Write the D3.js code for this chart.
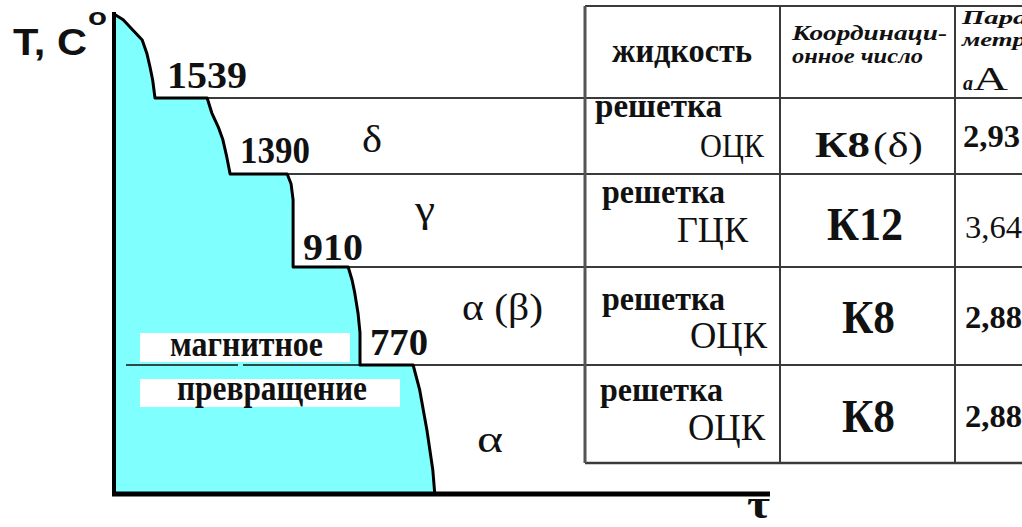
<!DOCTYPE html>
<html>
<head>
<meta charset="utf-8">
<script src="https://cdn.jsdelivr.net/npm/d3@7/dist/d3.min.js"></script>
<style>
  html, body { margin: 0; padding: 0; background: #fff; overflow: hidden; }
  svg { display: block; }
</style>
</head>
<body>
<svg id="chart" width="1022" height="527"></svg>
<script>
// Cooling curve of pure iron: time (arbitrary units) against temperature, °C
const curveTime = [0, 1.4, 2.9, 4.3, 5.0, 5.5, 5.9, 6.25, 14.2, 14.9, 15.9, 16.6, 17.2, 17.7,
                   26.4, 27.0, 27.3, 27.3, 35.7, 36.3, 36.7, 37.2, 37.5, 37.5, 45.6, 46.6, 47.7, 48.6, 48.9];
const curveTemp = [1700, 1689, 1669, 1650, 1625, 1598, 1573, 1539, 1539, 1510, 1482, 1457, 1423, 1390,
                   1390, 1338, 1256, 910, 910, 891, 873, 844, 816, 770, 770, 621, 382, 143, 0];

// Arrest points (plateaus) and the phase that exists below each of them
const criticalTemps = [1539, 1390, 910, 770];
const phases = ["δ", "γ", "α (β)", "α"];

// Side table
const headLiquid = "жидкость";
const headCoord = ["Координаци-", "онное число"];
const headParam = ["Пара-", "метр"];
const headUnit = ["а", "А"];
const latticeWord = "решетка";
const latticeTypes = ["ОЦК", "ГЦК", "ОЦК", "ОЦК"];
const coordNumbers = ["К8(δ)", "К12", "К8", "К8"];
const latticeParams = ["2,93", "3,64", "2,88", "2,88"];
const magneticLabel = ["магнитное", "превращение"];
const axisLabels = { y: "T, C", yDeg: "o", x: "τ" };

// ---------------------------------------------------------------
const svg = d3.select("#chart");
const SERIF = "'Liberation Serif', 'Times New Roman', serif";
const SANS = "'Liberation Sans', Arial, sans-serif";
const FILL = "#80ffff";

const x = d3.scaleLinear().domain([0, 100]).range([114, 770]);
// schematic temperature axis: each interval between arrests gets its own stretch
const y = d3.scaleLinear()
  .domain([1700, 1539, 1390, 910, 770, 0])
  .range([14, 98, 174, 267, 365, 494]);

const pts = curveTime.map((t, i) => [t, curveTemp[i]]);
const line = d3.line().x(d => x(d[0])).y(d => y(d[1]));

// text with a fixed drawn width
function txt(g, s, px, py, o = {}) {
  const t = g.append("text")
    .attr("x", px).attr("y", py)
    .attr("font-family", o.family || SERIF)
    .attr("font-size", o.size || 30)
    .attr("font-weight", o.weight || "bold")
    .attr("font-style", o.style || "normal")
    .attr("fill", o.fill || "#111")
    .text(s);
  if (o.w) t.attr("textLength", o.w).attr("lengthAdjust", "spacingAndGlyphs");
  return t;
}

// ---- filled region under the curve, closed along the temperature axis
svg.append("path")
  .attr("d", line(pts.concat([[0, 0]])) + "Z")
  .attr("fill", FILL);

// ---- table
const tLeft = 585, tRight = 1040, tTop = 6, tBottom = 463;
const colX = [780, 955];
const lineCol = "#3a3a3a";
const tbl = svg.append("g");

// plateau extensions running into the table
criticalTemps.forEach(T => {
  const tEnd = d3.max(pts.filter(p => p[1] === T), p => p[0]);
  tbl.append("line")
    .attr("x1", x(tEnd)).attr("x2", tRight)
    .attr("y1", y(T)).attr("y2", y(T))
    .attr("stroke", lineCol).attr("stroke-width", 2);
});
tbl.append("line").attr("x1", tLeft).attr("x2", tRight).attr("y1", tTop).attr("y2", tTop)
  .attr("stroke", lineCol).attr("stroke-width", 2);
tbl.append("line").attr("x1", tLeft).attr("x2", tRight).attr("y1", tBottom).attr("y2", tBottom)
  .attr("stroke", lineCol).attr("stroke-width", 2.5);
tbl.append("line").attr("x1", tLeft).attr("x2", tLeft).attr("y1", tTop).attr("y2", tBottom)
  .attr("stroke", "#555").attr("stroke-width", 3);
colX.forEach(cx => tbl.append("line").attr("x1", cx).attr("x2", cx)
  .attr("y1", tTop).attr("y2", tBottom).attr("stroke", lineCol).attr("stroke-width", 2));

// header row
txt(tbl, headLiquid, 612, 62, { size: 34, w: 140 });
txt(tbl, headCoord[0], 792, 40, { size: 20, style: "italic", w: 155 });
txt(tbl, headCoord[1], 792, 63, { size: 20, style: "italic", w: 131 });
txt(tbl, headParam[0], 962, 24, { size: 19, style: "italic", w: 75 });
txt(tbl, headParam[1], 962, 46, { size: 19, style: "italic", w: 64 });
txt(tbl, headUnit[0], 963, 90, { size: 22, style: "italic", w: 10 });
txt(tbl, headUnit[1], 973, 90, { size: 34, weight: "normal", w: 35 });

// body rows
const latX = [595, 602, 602, 600], latY = [117, 203, 310, 401], latW = [127, 123, 123, 123];
const typR = [764, 748, 767, 765], typY = [157, 242, 348, 440], typW = [64, 71, 77, 77], typS = [33, 36, 38, 38];
const coX = [815, 827, 842, 842], coY = [157, 240, 333, 432], coW = [55, 76, 53, 53], coS = [36, 46, 46, 46];
const parX = [963, 965, 965, 965], parY = [147, 238, 328, 427];
phases.forEach((p, i) => {
  txt(tbl, latticeWord, latX[i], latY[i], { size: 33, w: latW[i] });
  txt(tbl, latticeTypes[i], typR[i] - typW[i], typY[i], { size: typS[i], weight: "normal", w: typW[i] });
  const m = coordNumbers[i].match(/^([^()]+)(\(.*\))?$/);
  txt(tbl, m[1], coX[i], coY[i], { size: coS[i], w: coW[i] });
  if (m[2]) txt(tbl, m[2], coX[i] + coW[i] + 3, coY[i], { size: coS[i], weight: "normal", w: 50 });
  txt(tbl, latticeParams[i], parX[i], parY[i], { size: 32, weight: i === 1 ? "normal" : "bold", w: 57 });
});

// ---- magnetic transformation marker inside the filled region
const yMag = y(criticalTemps[3]);
const mag = svg.append("g");
[[126, 238], [243, x(37.5)]].forEach(([a, b]) =>
  mag.append("line").attr("x1", a).attr("x2", b).attr("y1", yMag).attr("y2", yMag)
    .attr("stroke", "#111").attr("stroke-width", 1.6));
mag.append("rect").attr("x", 140).attr("y", 333).attr("width", 210).attr("height", 29).attr("fill", "#fff");
mag.append("rect").attr("x", 140).attr("y", 379).attr("width", 260).attr("height", 28).attr("fill", "#fff");
txt(mag, magneticLabel[0], 170, 356, { size: 35, w: 153 });
txt(mag, magneticLabel[1], 177, 400, { size: 35, w: 190 });

// ---- the cooling curve itself
svg.append("path")
  .attr("d", line(pts))
  .attr("fill", "none").attr("stroke", "#000").attr("stroke-width", 3)
  .attr("stroke-linejoin", "round");

// ---- axes
svg.append("line").attr("x1", x(0)).attr("x2", x(0)).attr("y1", 12).attr("y2", y(0) + 2)
  .attr("stroke", "#000").attr("stroke-width", 4);
svg.append("line").attr("x1", x(0) - 2).attr("x2", x(100)).attr("y1", y(0)).attr("y2", y(0))
  .attr("stroke", "#000").attr("stroke-width", 5);
txt(svg, axisLabels.y, 13, 55, { family: SANS, size: 37, w: 74 });
txt(svg, axisLabels.yDeg, 88, 25, { family: SANS, size: 24, w: 19 });
txt(svg, axisLabels.x, 747, 518, { size: 40, w: 23 });

// ---- arrest temperatures and phase names
const numDx = [12, 10, 10, 10], numDy = [-10, -11, -7, -10], numW = [80, 70, 60, 58];
criticalTemps.forEach((T, i) => {
  const tStart = d3.min(pts.filter(p => p[1] === T), p => p[0]);
  txt(svg, String(T), x(tStart) + numDx[i], y(T) + numDy[i], { size: 38, w: numW[i] });
});
const phX = [362, 415, 462, 477], phY = [152, 222, 320, 452], phW = [20, 20, 81, 26];
phases.forEach((p, i) => txt(svg, p, phX[i], phY[i], { size: 38, weight: "normal", w: phW[i] }));
</script>
</body>
</html>
